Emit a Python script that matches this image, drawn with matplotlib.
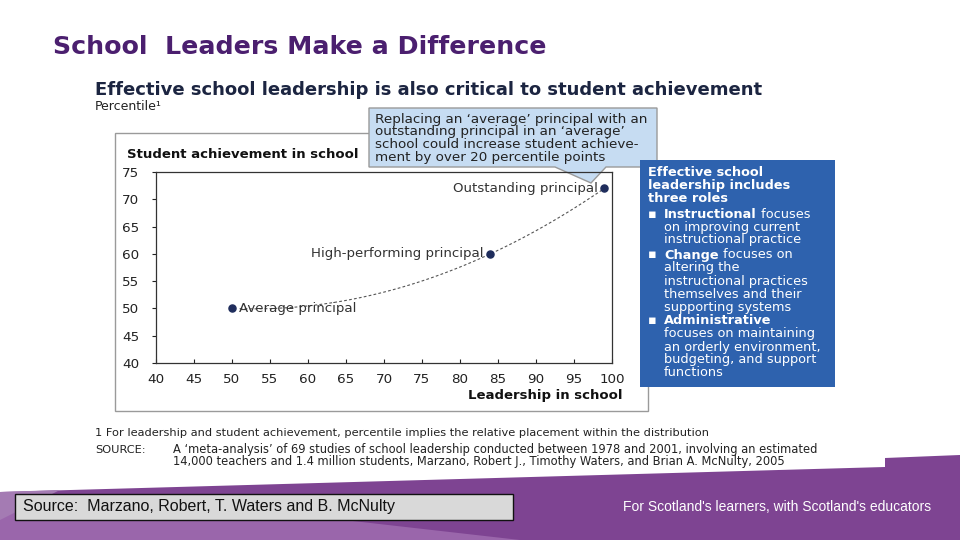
import matplotlib
matplotlib.use("Agg")
import matplotlib.pyplot as plt
import numpy as np
from matplotlib.patches import Rectangle, Polygon

plt.rcParams['font.family'] = ['DejaVu Sans']

# chart data
labels = ["Average principal", "High-performing principal", "Outstanding principal"]
leadership = [50, 84, 99]
achievement = [50, 60, 72]
x_ticks = [40, 45, 50, 55, 60, 65, 70, 75, 80, 85, 90, 95, 100]
y_ticks = [40, 45, 50, 55, 60, 65, 70, 75]

NAVY = "#1f2d5c"
PURPLE = "#4b1f6f"
NARROW = ["Liberation Sans Narrow", "Liberation Sans", "DejaVu Sans"]

fig = plt.figure(figsize=(9.6, 5.4), dpi=100)

# overlay axes in pixel coordinates for the slide decoration
bg = fig.add_axes([0, 0, 1, 1])
bg.set_xlim(0, 960)
bg.set_ylim(540, 0)
bg.axis("off")

# purple band at the bottom
bg.add_patch(Polygon([(0, 492), (885, 467), (885, 458), (960, 455), (960, 540), (0, 540)],
                     closed=True, color="#7e4492", lw=0))
bg.add_patch(Polygon([(0, 505), (300, 515), (520, 540), (0, 540)],
                     closed=True, color="#9a66ab", lw=0))
bg.add_patch(Polygon([(0, 492), (60, 490), (0, 520)], closed=True, color="#a47bb3", lw=0))

bg.text(53, 47, "School  Leaders Make a Difference", fontsize=18.2, fontweight="bold",
        color=PURPLE, va="center", ha="left")
bg.text(95, 90, "Effective school leadership is also critical to student achievement",
        fontsize=13, fontweight="bold", color="#1c2541", va="center", ha="left")
bg.text(95, 106, "Percentile\u00b9", fontsize=9, color="#222222", va="center", ha="left")

# chart panel frame
bg.add_patch(Rectangle((115, 133), 533, 278, fill=False, ec="#9a9a9a", lw=1))
bg.text(127, 154, "Student achievement in school", fontsize=9.5, fontweight="bold",
        color="#111111", va="center", ha="left")
bg.text(622, 396, "Leadership in school", fontsize=9.5, fontweight="bold",
        color="#111111", va="center", ha="right")

# callout box
bg.add_patch(Polygon([(369, 108), (657, 108), (657, 167), (606, 167), (591, 183),
                      (555, 167), (369, 167)], closed=True, fc="#c6dcf2", ec="#9a9a9a", lw=1,
                     zorder=5))
callout = ["Replacing an \u2018average\u2019 principal with an",
           "outstanding principal in an \u2018average\u2019",
           "school could increase student achieve-",
           "ment by over 20 percentile points"]
for i, line in enumerate(callout):
    bg.text(375, 119 + i * 12.7, line, fontsize=9.7, color="#222222",
            va="center", ha="left", zorder=6)

# blue roles box
bg.add_patch(Rectangle((640, 160), 195, 227, fc="#2e62ae", ec="none", zorder=5))
box_lines = [
    (648, 173, "Effective school", True, False),
    (648, 186, "leadership includes", True, False),
    (648, 199, "three roles", True, False),
    (648, 214, "\u25aa", True, False),
    (664, 214, "Instructional", True, " focuses"),
    (664, 227, "on improving current", False, False),
    (664, 240, "instructional practice", False, False),
    (648, 255, "\u25aa", True, False),
    (664, 255, "Change", True, " focuses on"),
    (664, 268, "altering the", False, False),
    (664, 281, "instructional practices", False, False),
    (664, 294, "themselves and their", False, False),
    (664, 307, "supporting systems", False, False),
    (648, 321, "\u25aa", True, False),
    (664, 321, "Administrative", True, False),
    (664, 334, "focuses on maintaining", False, False),
    (664, 347, "an orderly environment,", False, False),
    (664, 360, "budgeting, and support", False, False),
    (664, 373, "functions", False, False),
]
for x, y, txt, bold, rest in box_lines:
    t = bg.text(x, y, txt, fontsize=9.3, color="white", va="center", ha="left",
                fontweight="bold" if bold else "normal", zorder=6)
    if rest:
        fig.canvas.draw()
        bb = t.get_window_extent()
        x_end = bg.transData.inverted().transform((bb.x1, bb.y0))[0]
        bg.text(x_end, y, rest, fontsize=9.3, color="white", va="center", ha="left", zorder=6)

# footnotes
bg.text(95, 433, "1 For leadership and student achievement, percentile implies the relative "
        "placement within the distribution", fontsize=8.2, color="#222222", va="center")
bg.text(95, 450, "SOURCE:", fontsize=8.2, color="#222222", va="center")
bg.text(173, 450, "A \u2018meta-analysis\u2019 of 69 studies of school leadership conducted between "
        "1978 and 2001, involving an estimated", fontsize=8.3, color="#222222", va="center")
bg.text(173, 462, "14,000 teachers and 1.4 million students, Marzano, Robert J., Timothy "
        "Waters, and Brian A. McNulty, 2005", fontsize=8.3, color="#222222", va="center")

# source box and strapline
bg.add_patch(Rectangle((15, 494), 498, 26, fc="#d9d9d9", ec="#111111", lw=1, zorder=5))
bg.text(23, 507, "Source:  Marzano, Robert, T. Waters and B. McNulty",
        fontsize=11.5, color="#111111", va="center", ha="left", zorder=6, family=NARROW)
bg.text(777, 507, "For Scotland's learners, with Scotland's educators",
        fontsize=10, color="white", va="center", ha="center", family=NARROW)

# the scatter chart itself
ax = fig.add_axes([156 / 960, 1 - 363 / 540, 456 / 960, 191 / 540])
ax.set_facecolor("none")
ax.set_xlim(40, 100)
ax.set_ylim(40, 75)
ax.set_xticks(x_ticks)
ax.set_yticks(y_ticks)
ax.tick_params(labelsize=9.7, colors="#222222")
ax.tick_params(axis="y", direction="out", length=3, pad=9)
ax.tick_params(axis="x", direction="in", length=3, pad=7)
for s in ax.spines.values():
    s.set_color("#333333")
    s.set_linewidth(0.9)

# dashed trend through the three principals
coef = np.polyfit(leadership, achievement, 2)
xs = np.linspace(leadership[0] + 1, leadership[-1], 100)
ax.plot(xs, np.polyval(coef, xs), ls=(0, (2.5, 2)), color="#555555", lw=0.8)
ax.scatter(leadership, achievement, s=26, color=NAVY, zorder=3)

ax.annotate(labels[0], (leadership[0], achievement[0]), xytext=(5, 0),
            textcoords="offset points", fontsize=9.6, color="#333333", va="center", ha="left")
ax.annotate(labels[1], (leadership[1], achievement[1]), xytext=(-5, 0),
            textcoords="offset points", fontsize=9.6, color="#333333", va="center", ha="right")
ax.annotate(labels[2], (leadership[2], achievement[2]), xytext=(-5, 0),
            textcoords="offset points", fontsize=9.6, color="#333333", va="center", ha="right")

fig.savefig("out.png", dpi=100)
